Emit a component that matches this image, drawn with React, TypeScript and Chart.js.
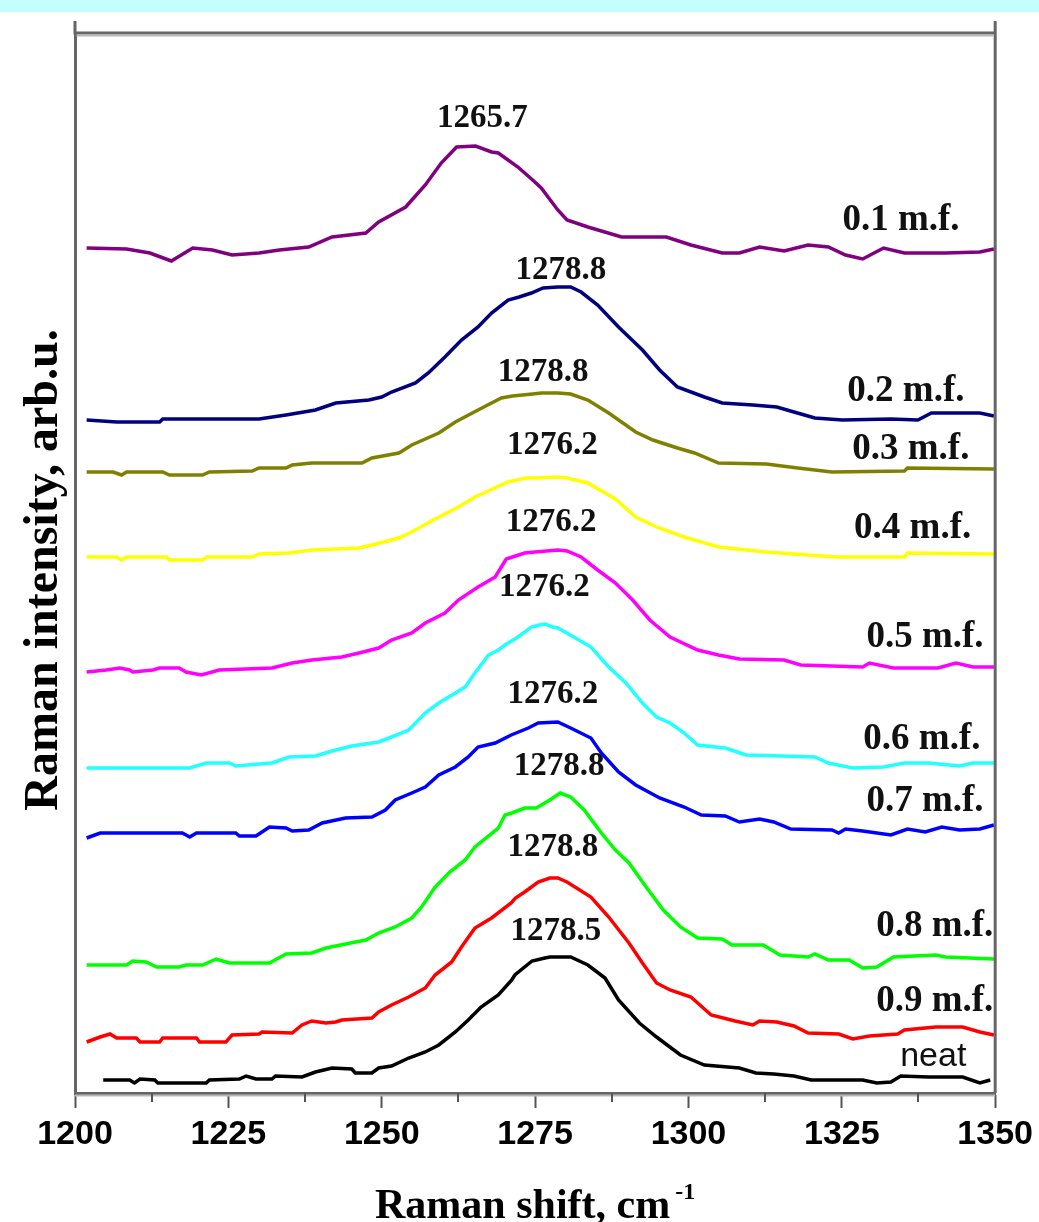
import React, { useEffect, useRef } from "react";
import { Chart, registerables } from "chart.js";

Chart.register(...registerables);

// ---- axis values ----
const xMin = 1200;
const xMax = 1350;
const xTickValues = [1200, 1225, 1250, 1275, 1300, 1325, 1350];
const xTickLabels = ["1200", "1225", "1250", "1275", "1300", "1325", "1350"];
const xMinorTickValues = [1212.5, 1237.5, 1262.5, 1287.5, 1312.5, 1337.5];
const yMin = 0;
const yMax = 1060;

// ---- spectra: [Raman shift (cm-1), intensity (arb.u., offset)] ----
const s01: [number, number][] = [[1201.9,845],[1208.4,844],[1212.2,840],[1215.7,832],[1219.2,845],[1222.4,843],[1225.6,838],[1230.0,840],[1233.3,843],[1238.1,846],[1241.9,856],[1247.4,860],[1249.5,871],[1253.9,886],[1257.1,908],[1259.7,930],[1262.2,946],[1265.3,947],[1267.9,941],[1269.0,940],[1272.2,926],[1274.6,913],[1276.0,905],[1278.7,883],[1280.2,873],[1283.6,866],[1289.1,856],[1296.4,856],[1300.4,848],[1305.5,840],[1308.3,840],[1311.6,846],[1315.6,842],[1319.5,848],[1322.8,846],[1325.6,838],[1328.4,834],[1331.8,845],[1335.2,840],[1341.9,840],[1347.5,841],[1349.8,844]];
const s02: [number, number][] = [[1201.9,673],[1206.8,671],[1213.8,671],[1214.3,674],[1230.0,674],[1234.4,678],[1239.2,683],[1242.5,690],[1247.9,693],[1250.0,696],[1251.6,701],[1255.5,710],[1257.6,720],[1260.3,736],[1263.0,753],[1265.7,766],[1267.9,780],[1270.6,793],[1272.4,796],[1274.4,800],[1276.3,805],[1278.7,806],[1280.8,806],[1282.5,801],[1285.2,788],[1288.6,766],[1292.5,743],[1295.3,723],[1298.2,706],[1302.6,696],[1305.5,690],[1310.5,688],[1314.4,686],[1317.2,681],[1320.6,675],[1325.1,673],[1333.0,674],[1337.4,673],[1339.6,680],[1347.5,680],[1349.8,677]];
const s03: [number, number][] = [[1201.9,621],[1206.2,621],[1207.6,618],[1208.4,621],[1214.3,621],[1215.4,618],[1220.8,618],[1221.9,621],[1228.9,622],[1230.0,625],[1234.4,625],[1235.4,628],[1238.6,630],[1246.8,630],[1248.4,635],[1252.8,640],[1254.9,648],[1259.3,660],[1262.0,671],[1265.7,683],[1269.5,695],[1271.3,697],[1274.6,699],[1276.0,700],[1278.7,700],[1280.8,699],[1283.6,693],[1287.0,680],[1291.4,661],[1294.2,653],[1298.2,645],[1301.0,640],[1304.9,630],[1312.7,629],[1317.8,625],[1323.4,621],[1335.2,622],[1335.7,625],[1349.8,624]];
const s04: [number, number][] = [[1201.9,536],[1206.8,536],[1207.6,533],[1208.4,536],[1214.9,536],[1215.4,533],[1220.8,533],[1221.4,536],[1228.9,536],[1230.0,539],[1234.9,540],[1238.6,543],[1246.3,545],[1248.4,548],[1252.8,555],[1254.9,561],[1258.1,572],[1262.5,586],[1265.2,596],[1270.6,611],[1273.5,615],[1275.0,615],[1278.7,616],[1280.2,615],[1283.6,610],[1288.1,594],[1291.4,576],[1294.8,566],[1299.3,556],[1304.9,546],[1312.7,541],[1317.2,539],[1324.0,536],[1335.2,536],[1335.7,540],[1349.8,539]];
const s05: [number, number][] = [[1201.9,421],[1205.1,423],[1207.3,425],[1208.9,423],[1209.4,421],[1212.7,423],[1213.8,425],[1217.0,425],[1218.1,421],[1220.6,418],[1223.5,423],[1232.1,425],[1235.4,430],[1238.6,433],[1243.5,436],[1246.3,440],[1249.5,445],[1251.6,453],[1254.9,460],[1257.1,470],[1260.3,480],[1262.5,493],[1265.7,506],[1268.5,516],[1270.3,534],[1273.3,540],[1275.0,541],[1278.7,543],[1280.2,542],[1282.5,536],[1285.2,523],[1288.1,510],[1290.9,493],[1293.7,473],[1297.0,456],[1301.5,443],[1304.9,438],[1308.3,434],[1315.6,433],[1318.3,428],[1328.4,426],[1329.5,430],[1333.4,425],[1340.7,425],[1343.6,430],[1346.4,426],[1349.8,426]];
const s06: [number, number][] = [[1201.9,325],[1218.7,325],[1221.4,330],[1225.2,330],[1226.2,327],[1232.1,330],[1234.9,336],[1239.2,337],[1241.9,342],[1245.1,347],[1249.5,351],[1251.6,356],[1254.4,363],[1257.1,380],[1259.3,390],[1262.0,400],[1263.6,406],[1265.2,420],[1267.4,438],[1269.0,443],[1270.1,448],[1272.2,456],[1274.4,466],[1275.7,468],[1276.6,469],[1277.9,466],[1278.7,465],[1281.3,456],[1284.1,446],[1287.0,426],[1289.8,410],[1292.5,390],[1294.8,376],[1297.0,370],[1299.3,360],[1301.5,348],[1306.0,345],[1309.4,338],[1320.6,336],[1322.8,330],[1326.8,325],[1331.8,326],[1335.2,330],[1339.1,330],[1344.2,327],[1346.4,330],[1349.8,330]];
const s07: [number, number][] = [[1201.9,255],[1204.1,260],[1217.5,260],[1218.7,256],[1219.8,260],[1226.2,260],[1226.8,257],[1229.5,257],[1231.7,266],[1234.4,265],[1235.4,262],[1238.1,263],[1240.3,270],[1244.1,275],[1248.4,276],[1250.6,283],[1252.2,293],[1254.9,300],[1257.1,306],[1259.3,318],[1262.0,326],[1264.1,336],[1265.7,346],[1268.5,350],[1271.1,358],[1273.9,365],[1275.5,370],[1278.7,371],[1280.8,365],[1284.1,355],[1285.8,340],[1288.6,321],[1291.4,308],[1295.3,295],[1299.3,286],[1302.1,278],[1306.0,277],[1308.3,271],[1311.6,274],[1313.9,271],[1316.7,264],[1323.4,263],[1324.5,260],[1325.6,264],[1328.4,262],[1333.0,258],[1335.7,264],[1338.6,261],[1341.3,266],[1344.2,263],[1347.5,264],[1349.8,268]];
const s08: [number, number][] = [[1201.9,128],[1208.4,128],[1209.4,132],[1211.6,131],[1213.3,126],[1217.0,126],[1218.1,128],[1220.8,128],[1223.0,134],[1225.2,130],[1231.7,130],[1234.4,139],[1238.6,140],[1240.9,145],[1244.1,149],[1247.4,153],[1249.5,160],[1252.2,166],[1254.9,175],[1256.5,186],[1258.7,206],[1261.1,221],[1263.6,233],[1265.2,246],[1269.0,265],[1270.1,278],[1271.2,280],[1273.3,285],[1275.2,285],[1277.4,293],[1279.1,300],[1280.8,296],[1283.0,283],[1285.8,260],[1288.1,243],[1290.3,230],[1293.1,206],[1295.9,183],[1298.7,166],[1301.5,155],[1305.5,154],[1307.1,148],[1312.2,148],[1314.9,138],[1319.5,136],[1320.6,139],[1322.8,133],[1326.2,133],[1328.4,125],[1330.7,126],[1333.4,136],[1340.3,138],[1341.9,136],[1349.8,134]];
const s09: [number, number][] = [[1201.9,51],[1204.1,56],[1205.7,59],[1206.8,55],[1210.0,55],[1210.6,51],[1213.8,51],[1214.3,55],[1219.8,55],[1220.3,51],[1224.6,51],[1225.6,58],[1230.0,59],[1230.5,61],[1235.4,60],[1237.0,68],[1238.6,72],[1240.9,70],[1242.5,71],[1243.5,73],[1248.4,75],[1249.5,81],[1251.6,88],[1254.4,96],[1257.1,105],[1258.7,118],[1261.4,131],[1263.0,146],[1265.2,165],[1267.9,175],[1271.1,190],[1271.8,195],[1273.3,201],[1275.5,211],[1277.4,215],[1278.7,215],[1280.2,211],[1284.1,196],[1287.0,176],[1290.3,150],[1292.5,130],[1294.8,110],[1297.0,103],[1300.4,96],[1303.7,78],[1307.6,72],[1310.5,68],[1311.6,72],[1314.4,71],[1317.2,67],[1319.5,60],[1324.5,59],[1326.8,54],[1329.5,57],[1334.1,59],[1335.2,63],[1340.3,66],[1344.7,66],[1347.5,61],[1349.8,58]];
const s10: [number, number][] = [[1204.6,13],[1208.9,13],[1209.7,10],[1210.6,14],[1213.0,13],[1213.5,10],[1221.4,10],[1221.9,13],[1226.8,14],[1227.9,17],[1229.5,14],[1232.1,14],[1232.7,17],[1237.0,16],[1239.2,21],[1241.9,25],[1245.1,24],[1245.7,20],[1248.4,20],[1249.5,25],[1251.6,27],[1254.4,35],[1257.1,41],[1259.3,48],[1262.0,61],[1264.1,73],[1266.2,86],[1269.0,98],[1271.2,113],[1271.7,118],[1274.5,132],[1276.6,135],[1277.4,136],[1278.7,136],[1280.8,136],[1283.6,128],[1286.4,115],[1288.6,93],[1292.0,70],[1294.8,56],[1298.7,38],[1302.6,28],[1308.3,25],[1311.0,20],[1313.9,19],[1317.2,17],[1320.0,13],[1328.4,13],[1330.7,10],[1333.0,11],[1334.6,17],[1339.1,16],[1344.7,16],[1347.5,10],[1349.2,13]];

const spectra = [s01, s02, s03, s04, s05, s06, s07, s08, s09, s10];
const seriesNames = ["0.1 m.f.", "0.2 m.f.", "0.3 m.f.", "0.4 m.f.", "0.5 m.f.", "0.6 m.f.", "0.7 m.f.", "0.8 m.f.", "0.9 m.f.", "neat"];
const seriesColors = ["#800080", "#000080", "#808000", "#ffff00", "#ff00ff", "#22ffff", "#0000ff", "#00ff00", "#ff0000", "#000000"];

// series name label anchors (right edge, vertical middle) in data coordinates
const nameLabelX = [1344.2, 1345.0, 1345.8, 1346.1, 1348.1, 1347.6, 1348.1, 1349.7, 1349.7, 1345.3];
const nameLabelY = [873, 702, 644, 565, 456, 354, 292, 167, 92, 36];

// peak position annotations (centre) in data coordinates
const peakLabels = ["1265.7", "1278.8", "1278.8", "1276.2", "1276.2", "1276.2", "1276.2", "1278.8", "1278.8", "1278.5"];
const peakLabelX = [1266.4, 1279.2, 1276.3, 1277.8, 1277.6, 1276.5, 1277.9, 1278.9, 1277.9, 1278.4];
const peakLabelY = [975, 823, 721, 648, 571, 506, 399, 327, 246, 162];

const xTitle = "Raman shift, cm";
const xTitleSup = "-1";
const yTitle = "Raman intensity, arb.u.";

const decorPlugin = {
  id: "decor",
  afterDraw(chart: any) {
    const { ctx, chartArea: ca, scales } = chart;
    const xs = scales.x;
    const ys = scales.y;
    ctx.save();

    // frame: top and right sides, small extensions above
    ctx.strokeStyle = "#666666";
    ctx.lineWidth = 3;
    ctx.beginPath();
    ctx.moveTo(ca.left - 1.5, ca.top);
    ctx.lineTo(ca.right + 1.5, ca.top);
    ctx.moveTo(ca.right, ca.top - 12);
    ctx.lineTo(ca.right, ca.bottom);
    ctx.moveTo(ca.left, ca.top - 12);
    ctx.lineTo(ca.left, ca.top);
    ctx.stroke();
    ctx.strokeStyle = "#b8b8b8";
    ctx.lineWidth = 2;
    ctx.beginPath();
    ctx.moveTo(ca.left + 1.5, ca.top + 2.5);
    ctx.lineTo(ca.right - 1.5, ca.top + 2.5);
    ctx.moveTo(ca.left, ca.bottom + 2.5);
    ctx.lineTo(ca.right, ca.bottom + 2.5);
    ctx.stroke();

    // minor ticks
    ctx.strokeStyle = "#555555";
    ctx.lineWidth = 2;
    ctx.beginPath();
    for (const v of xMinorTickValues) {
      const px = Math.round(xs.getPixelForValue(v));
      ctx.moveTo(px, ca.bottom);
      ctx.lineTo(px, ca.bottom + 9);
    }
    ctx.stroke();

    // peak annotations
    ctx.fillStyle = "#111111";
    ctx.textBaseline = "middle";
    ctx.textAlign = "center";
    ctx.font = 'bold 33px "Liberation Serif", "Times New Roman", serif';
    peakLabels.forEach((t, i) => {
      ctx.fillText(t, xs.getPixelForValue(peakLabelX[i]), ys.getPixelForValue(peakLabelY[i]));
    });

    // series names
    ctx.textAlign = "right";
    seriesNames.forEach((t, i) => {
      ctx.font = t === "neat"
        ? '34px "Liberation Sans", Arial, sans-serif'
        : 'bold 37px "Liberation Serif", "Times New Roman", serif';
      ctx.fillText(t, xs.getPixelForValue(nameLabelX[i]), ys.getPixelForValue(nameLabelY[i]));
    });

    // x-axis title with superscript
    ctx.fillStyle = "#000000";
    ctx.textBaseline = "alphabetic";
    ctx.textAlign = "left";
    const mainFont = 'bold 42px "Liberation Serif", "Times New Roman", serif';
    const supFont = 'bold 24px "Liberation Serif", "Times New Roman", serif';
    ctx.font = mainFont;
    const w1 = ctx.measureText(xTitle).width;
    ctx.font = supFont;
    const w2 = ctx.measureText(xTitleSup).width;
    const gap = 5;
    const cx = (ca.left + ca.right) / 2;
    const startX = cx - (w1 + gap + w2) / 2;
    const baseY = 1218;
    ctx.font = mainFont;
    ctx.fillText(xTitle, startX, baseY);
    ctx.font = supFont;
    ctx.fillText(xTitleSup, startX + w1 + gap, baseY - 19);

    // y-axis title (rotated)
    ctx.save();
    ctx.translate(57, (ca.top + ca.bottom) / 2 + 7);
    ctx.rotate(-Math.PI / 2);
    ctx.textAlign = "center";
    ctx.font = 'bold 48px "Liberation Serif", "Times New Roman", serif';
    ctx.fillText(yTitle, 0, 0);
    ctx.restore();

    ctx.restore();
  },
};

export default function App() {
  const canvasRef = useRef<HTMLCanvasElement>(null);

  useEffect(() => {
    document.body.style.margin = "0";
    const canvas = canvasRef.current;
    if (!canvas) return;
    const chart = new Chart(canvas, {
      type: "line",
      data: {
        datasets: spectra.map((s, i) => ({
          label: seriesNames[i],
          data: s.map(([x, y]) => ({ x, y })),
          borderColor: seriesColors[i],
          backgroundColor: seriesColors[i],
          borderWidth: 3.5,
          pointRadius: 0,
          tension: 0,
          fill: false,
        })),
      },
      options: {
        responsive: false,
        animation: false,
        devicePixelRatio: 1,
        layout: { padding: { top: 33, right: 40, left: 0, bottom: 0 } },
        plugins: {
          legend: { display: false },
          tooltip: { enabled: false },
        },
        scales: {
          x: {
            type: "linear",
            min: xMin,
            max: xMax,
            afterFit: (s: any) => {
              s.height = 129;
            },
            afterBuildTicks: (s: any) => {
              s.ticks = xTickValues.map((v) => ({ value: v }));
            },
            ticks: {
              autoSkip: false,
              maxRotation: 0,
              minRotation: 0,
              padding: 6,
              color: "#000000",
              font: { family: '"Liberation Sans", Arial, sans-serif', size: 34, weight: "bold" },
              callback: (v: any) => {
                const idx = xTickValues.indexOf(Number(v));
                return idx >= 0 ? xTickLabels[idx] : "";
              },
            },
            grid: {
              display: true,
              drawOnChartArea: false,
              drawTicks: true,
              tickLength: 15,
              tickWidth: 2,
              tickColor: "#555555",
            },
            border: { display: true, color: "#666666", width: 3 },
          },
          y: {
            type: "linear",
            min: yMin,
            max: yMax,
            afterFit: (s: any) => {
              s.width = 75;
            },
            ticks: { display: false },
            grid: { display: true, drawOnChartArea: false, drawTicks: false },
            border: { display: true, color: "#666666", width: 3 },
          },
        },
      },
      plugins: [decorPlugin],
    });
    return () => chart.destroy();
  }, []);

  return (
    <div style={{ position: "absolute", left: 0, top: 0, width: 1039, height: 1222, background: "#ffffff" }}>
      <div style={{ position: "absolute", left: 0, top: 0, width: 1039, height: 12, background: "#c4ffff" }} />
      <canvas ref={canvasRef} width={1039} height={1222} style={{ display: "block", width: 1039, height: 1222 }} />
    </div>
  );
}
